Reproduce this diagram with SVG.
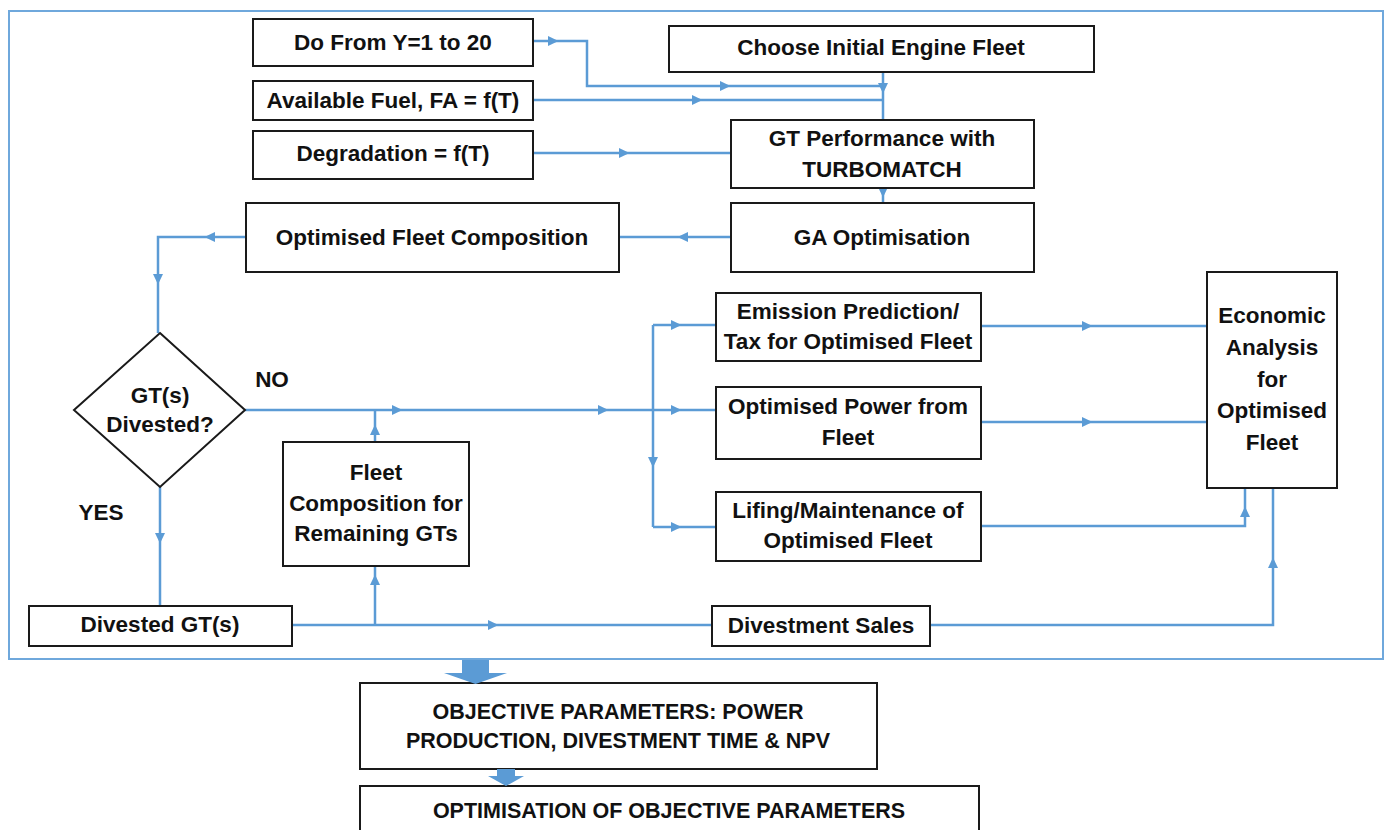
<svg xmlns="http://www.w3.org/2000/svg" xmlns:xlink="http://www.w3.org/1999/xlink" width="1387" height="830" viewBox="0 0 1387 830">
<style>
.box{fill:#fff;stroke:#1a1a1a;stroke-width:2}
.t{font-family:"Liberation Sans",Arial,sans-serif;font-weight:bold;font-size:22.5px;fill:#111;text-anchor:middle}
.tb{font-family:"Liberation Sans",Arial,sans-serif;font-weight:bold;font-size:21.5px;fill:#111;text-anchor:middle}
.c{fill:none;stroke:#5B9BD5;stroke-width:2.5}
.frame{fill:none;stroke:#6FA8DC;stroke-width:2}
.blk{fill:#5B9BD5}
</style>
<defs>
<path id="ah" d="M5.5,0 L-5,-5 L-5,5 Z" fill="#5B9BD5"/>
</defs>
<rect width="1387" height="830" fill="#fff"/>
<rect class="frame" x="9" y="11" width="1374" height="648"/>

<g id="connectors">
<path class="c" d="M533,41 H587 V86 H883"/>
<path class="c" d="M533,100 H883"/>
<path class="c" d="M883,72 V120"/>
<path class="c" d="M533,153 H731"/>
<path class="c" d="M883,188 V203"/>
<path class="c" d="M731,237 H619"/>
<path class="c" d="M245,237 H158 V333"/>
<path class="c" d="M245,410 H716"/>
<path class="c" d="M653,325 V527"/>
<path class="c" d="M653,325 H716"/>
<path class="c" d="M653,527 H716"/>
<path class="c" d="M981,326 H1207"/>
<path class="c" d="M981,422 H1207"/>
<path class="c" d="M981,526 H1245 V488"/>
<path class="c" d="M930,625 H1273 V488"/>
<path class="c" d="M160,487 V606"/>
<path class="c" d="M292,625 H712"/>
<path class="c" d="M375,625 V566"/>
<path class="c" d="M375,442 V410"/>
<use xlink:href="#ah" transform="translate(553,41)"/>
<use xlink:href="#ah" transform="translate(725,86)"/>
<use xlink:href="#ah" transform="translate(697,100)"/>
<use xlink:href="#ah" transform="translate(883,88) rotate(90)"/>
<use xlink:href="#ah" transform="translate(624,153)"/>
<use xlink:href="#ah" transform="translate(883,192) rotate(90)"/>
<use xlink:href="#ah" transform="translate(683,237) rotate(180)"/>
<use xlink:href="#ah" transform="translate(210,237) rotate(180)"/>
<use xlink:href="#ah" transform="translate(158,279) rotate(90)"/>
<use xlink:href="#ah" transform="translate(397,410)"/>
<use xlink:href="#ah" transform="translate(603,410)"/>
<use xlink:href="#ah" transform="translate(676,410)"/>
<use xlink:href="#ah" transform="translate(676,325)"/>
<use xlink:href="#ah" transform="translate(676,527)"/>
<use xlink:href="#ah" transform="translate(653,462) rotate(90)"/>
<use xlink:href="#ah" transform="translate(1087,326)"/>
<use xlink:href="#ah" transform="translate(1087,422)"/>
<use xlink:href="#ah" transform="translate(1245,512) rotate(-90)"/>
<use xlink:href="#ah" transform="translate(1273,563) rotate(-90)"/>
<use xlink:href="#ah" transform="translate(160,538) rotate(90)"/>
<use xlink:href="#ah" transform="translate(493,625)"/>
<use xlink:href="#ah" transform="translate(375,580) rotate(-90)"/>
<use xlink:href="#ah" transform="translate(375,430) rotate(-90)"/>
</g>

<g id="n-dofrom"><rect class="box" x="253" y="19" width="280" height="47"/><text class="t" x="393" y="50">Do From Y=1 to 20</text></g>
<g id="n-fuel"><rect class="box" x="253" y="81" width="280" height="39"/><text class="t" x="393" y="108">Available Fuel, FA = f(T)</text></g>
<g id="n-degr"><rect class="box" x="253" y="131" width="280" height="48"/><text class="t" x="393" y="161">Degradation = f(T)</text></g>
<g id="n-ofc"><rect class="box" x="246" y="203" width="373" height="69"/><text class="t" x="432" y="245">Optimised Fleet Composition</text></g>
<g id="n-choose"><rect class="box" x="669" y="26" width="425" height="46"/><text class="t" x="881" y="55">Choose Initial Engine Fleet</text></g>
<g id="n-gtperf"><rect class="box" x="731" y="120" width="303" height="68"/><text class="t" x="882" y="146">GT Performance with</text><text class="t" x="882" y="177">TURBOMATCH</text></g>
<g id="n-ga"><rect class="box" x="731" y="203" width="303" height="69"/><text class="t" x="882" y="245">GA Optimisation</text></g>
<g id="n-diamond"><path class="box" d="M160,333 L245,410 L160,487 L74,410 Z"/><text class="t" x="160" y="403">GT(s)</text><text class="t" x="160" y="432">Divested?</text></g>
<g id="l-no"><text class="t" x="272" y="387">NO</text></g>
<g id="l-yes"><text class="t" x="101" y="520">YES</text></g>
<g id="n-fcrem"><rect class="box" x="283" y="442" width="186" height="124"/><text class="t" x="376" y="480">Fleet</text><text class="t" x="376" y="511">Composition for</text><text class="t" x="376" y="541">Remaining GTs</text></g>
<g id="n-divgt"><rect class="box" x="29" y="606" width="263" height="40"/><text class="t" x="160" y="632">Divested GT(s)</text></g>
<g id="n-emis"><rect class="box" x="716" y="293" width="265" height="68"/><text class="t" x="848" y="319">Emission Prediction/</text><text class="t" x="848" y="349">Tax for Optimised Fleet</text></g>
<g id="n-power"><rect class="box" x="716" y="387" width="265" height="72"/><text class="t" x="848" y="414">Optimised Power from</text><text class="t" x="848" y="445">Fleet</text></g>
<g id="n-lifing"><rect class="box" x="716" y="492" width="265" height="69"/><text class="t" x="848" y="518">Lifing/Maintenance of</text><text class="t" x="848" y="548">Optimised Fleet</text></g>
<g id="n-sales"><rect class="box" x="712" y="606" width="218" height="40"/><text class="t" x="821" y="633">Divestment Sales</text></g>
<g id="n-econ"><rect class="box" x="1207" y="272" width="130" height="216"/><text class="t" x="1272" y="323">Economic</text><text class="t" x="1272" y="355">Analysis</text><text class="t" x="1272" y="387">for</text><text class="t" x="1272" y="418">Optimised</text><text class="t" x="1272" y="450">Fleet</text></g>
<g id="n-objective"><rect class="box" x="360" y="683" width="517" height="86"/><text class="tb" x="618" y="719">OBJECTIVE PARAMETERS: POWER</text><text class="tb" x="618" y="748">PRODUCTION, DIVESTMENT TIME &amp; NPV</text></g>
<g id="n-optim"><rect class="box" x="360" y="786" width="619" height="60"/><text class="tb" x="669" y="818">OPTIMISATION OF OBJECTIVE PARAMETERS</text></g>

<g id="block-arrows">
<path class="blk" d="M462,660 H489 V673 H507 L475.5,684 L444,673 H462 Z"/>
<path class="blk" d="M497,769 H515 V776 H524 L506,786 L488,776 H497 Z"/>
</g>
</svg>
